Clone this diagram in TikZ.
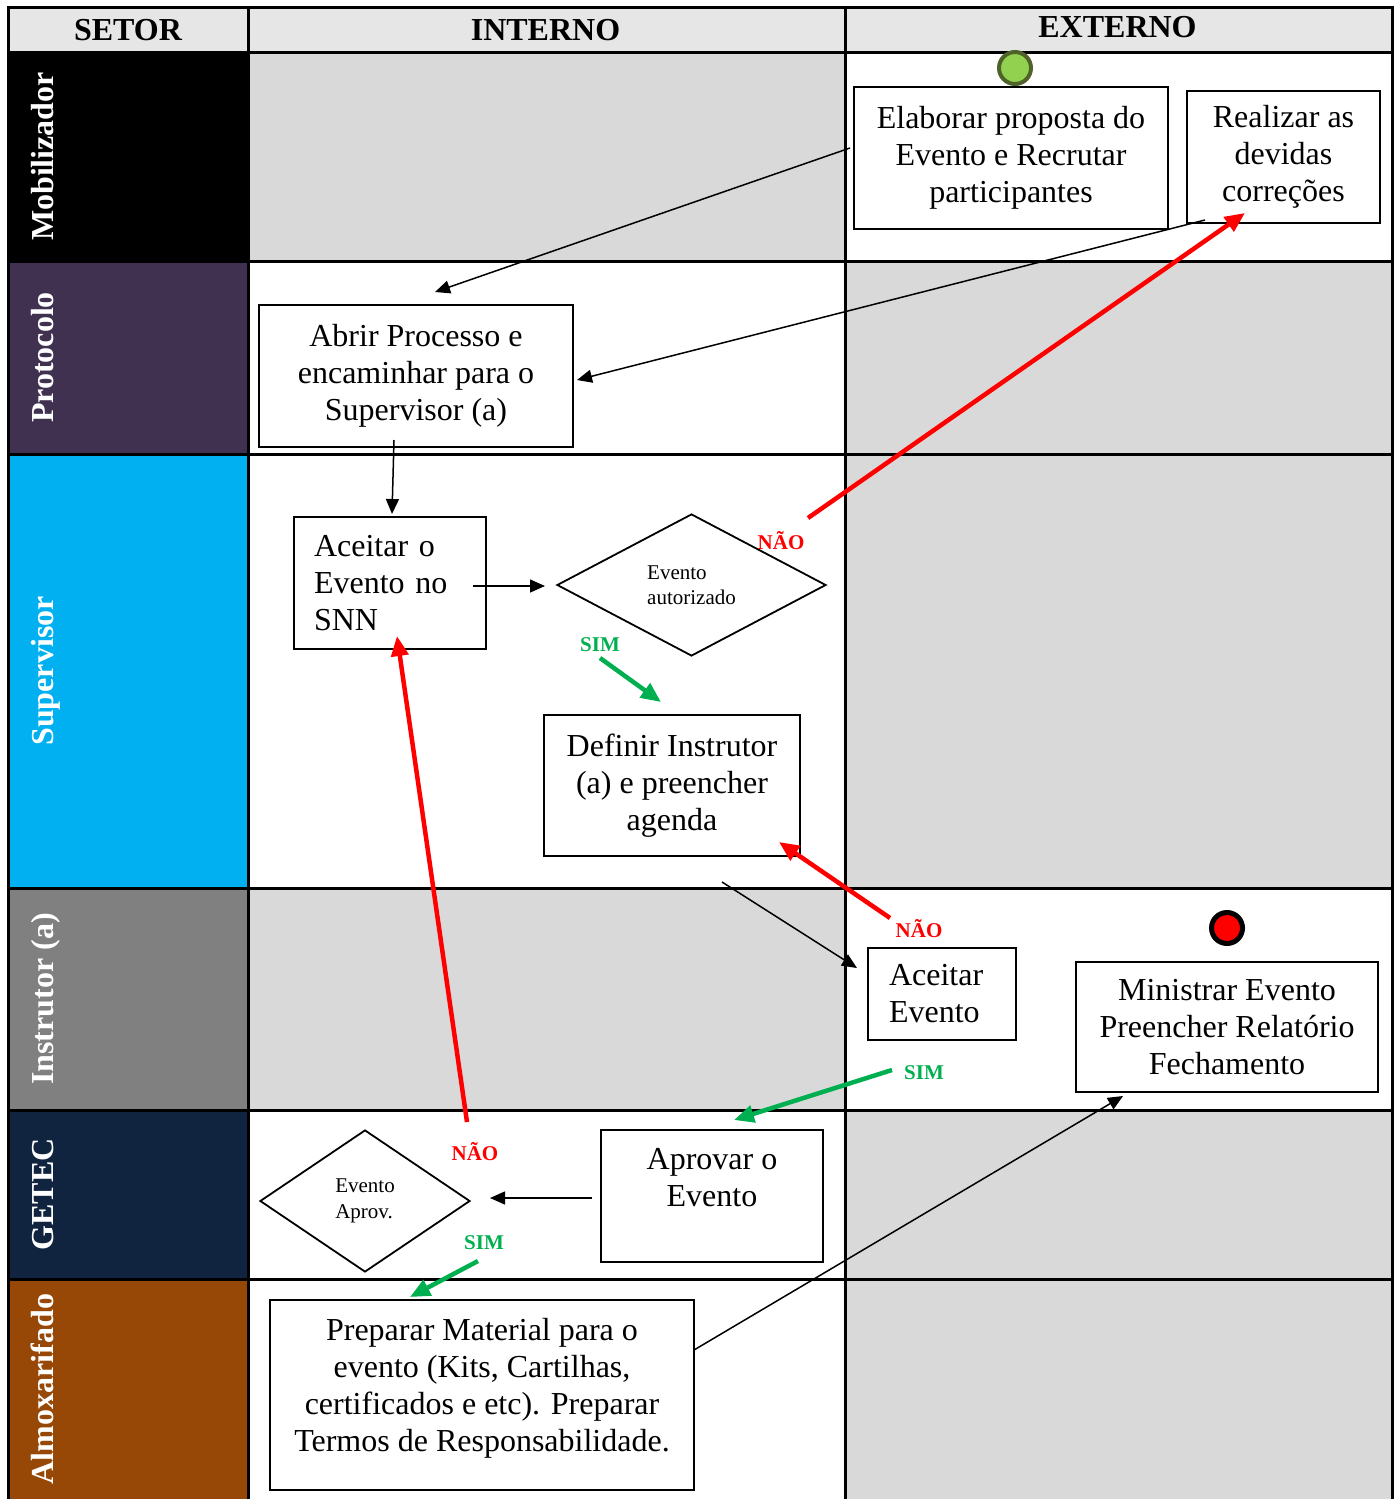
\documentclass[tikz,border=0pt]{standalone}
\usepackage{fontspec}
\setmainfont{Liberation Serif}
\usetikzlibrary{arrows.meta,shapes.geometric}

\definecolor{cellgray}{RGB}{217,217,217}
\definecolor{headgray}{RGB}{230,230,230}
\definecolor{lanemob}{RGB}{0,0,0}
\definecolor{laneprot}{RGB}{64,49,81}
\definecolor{lanesup}{RGB}{0,176,240}
\definecolor{laneinst}{RGB}{128,128,128}
\definecolor{lanegetec}{RGB}{16,36,63}
\definecolor{lanealmox}{RGB}{151,72,6}
\definecolor{startgreen}{RGB}{146,208,80}
\definecolor{startedge}{RGB}{79,98,40}
\definecolor{okgreen}{RGB}{0,176,80}
\definecolor{nored}{RGB}{255,0,0}

\newcommand{\flowtext}{\fontsize{32}{37}\selectfont}
\newcommand{\decisiontext}{\fontsize{21}{25.5}\selectfont}
\newcommand{\headtext}{\fontsize{32}{37}\selectfont\bfseries}
\newcommand{\answertext}{\fontsize{21}{25}\selectfont\bfseries}

\begin{document}
\begin{tikzpicture}[x=1pt,y=-1pt,
  grid/.style={line width=3pt, line cap=rect},
  box/.style={draw, line width=1.8pt, fill=white, inner sep=0pt, align=center, font=\flowtext},
  decision/.style={draw, diamond, line width=1.8pt, fill=white, inner sep=0pt, align=left, font=\decisiontext},
  headlabel/.style={anchor=base, font=\headtext},
  lanelabel/.style={anchor=base, rotate=90, text=white, font=\headtext},
  flow/.style={line width=1.5pt, -{Triangle[length=15pt,width=13pt]}},
  noflow/.style={line width=4.5pt, draw=nored, -{Triangle[length=20pt,width=17pt]}},
  yesflow/.style={line width=4.5pt, draw=okgreen, -{Triangle[length=20pt,width=17pt]}},
  noanswer/.style={text=nored, font=\answertext, inner sep=0pt},
  yesanswer/.style={text=okgreen, font=\answertext, inner sep=0pt}
]
\useasboundingbox (0,0) rectangle (1396,1499);
\fill[white] (0,0) rectangle (1396,1499);

% header row
\fill[headgray] (8,7) rectangle (1392,52);

% lane colours
\fill[lanemob]   (8,52)   rectangle (248,261);
\fill[laneprot]  (8,261)  rectangle (248,454);
\fill[lanesup]   (8,454)  rectangle (248,888);
\fill[laneinst]  (8,888)  rectangle (248,1110);
\fill[lanegetec] (8,1110) rectangle (248,1279);
\fill[lanealmox] (8,1279) rectangle (248,1499);

% shaded cells
\fill[cellgray] (248,52)   rectangle (845,261);
\fill[cellgray] (845,261)  rectangle (1392,454);
\fill[cellgray] (845,454)  rectangle (1392,888);
\fill[cellgray] (248,888)  rectangle (845,1110);
\fill[cellgray] (845,1110) rectangle (1392,1279);
\fill[cellgray] (845,1279) rectangle (1392,1499);

% table lines
\draw[grid] (8,1499) -- (8,7) -- (1392,7) -- (1392,1499);
\foreach \yy in {52,261,454,888,1110,1279}
  \draw[grid] (8,\yy) -- (1392,\yy);
\draw[grid] (248,7) -- (248,1499);
\draw[grid] (845,7) -- (845,1499);

% column headings
\node[headlabel] (hsetor) at (128,40) {SETOR};
\node[headlabel] (hint)   at (545.5,40) {INTERNO};
\node[headlabel] (hext)   at (1117.5,37) {EXTERNO};

% lane names
\node[lanelabel] (lmob)   at (53,156.5) {Mobilizador};
\node[lanelabel] (lprot)  at (53,357.5) {Protocolo};
\node[lanelabel] (lsup)   at (53,671)   {Supervisor};
\node[lanelabel] (linst)  at (53,999)   {Instrutor (a)};
\node[lanelabel] (lgetec) at (53,1194.5){GETEC};
\node[lanelabel] (lalmox) at (53,1389)  {Almoxarifado};

% start and end events
\node[circle, draw=startedge, fill=startgreen, line width=4pt, minimum size=32pt, inner sep=0pt] (start) at (1015,68) {};
\node[circle, draw=black, fill=nored, line width=5pt, minimum size=31pt, inner sep=0pt] (finish) at (1227,928) {};

% activities
\node[box, minimum width=314pt, minimum height=142pt] (elab) at (1011,158)
  {Elaborar proposta do\\Evento e Recrutar\\participantes};
\node[box, minimum width=193pt, minimum height=132pt] (realizar) at (1283.5,157)
  {Realizar as\\devidas\\correções};
\node[box, minimum width=314pt, minimum height=142pt] (abrir) at (416,376)
  {Abrir Processo e\\encaminhar para o\\Supervisor (a)};
\node[box, align=left, text width=152pt, inner xsep=20pt, minimum height=132pt] (aceitar) at (390,583)
  {Aceitar o\\Evento no\\SNN};
\node[decision, minimum width=269pt, minimum height=142pt] (autoriz) at (691.5,585)
  {Evento\\autorizado};
\node[box, minimum width=256pt, minimum height=141pt] (definir) at (672,785.5)
  {Definir Instrutor\\(a) e preencher\\agenda};
\node[box, align=left, text width=106pt, inner xsep=21pt, minimum height=92pt] (aceitarev) at (942,994)
  {Aceitar\\Evento};
\node[box, minimum width=302pt, minimum height=130pt] (ministrar) at (1227,1027)
  {Ministrar Evento\\Preencher Relatório\\Fechamento};
\node[box, minimum width=222pt, minimum height=132pt] (aprovar) at (712,1196)
  {Aprovar o\\Evento\\\mbox{}};
\node[decision, minimum width=210pt, minimum height=142pt] (aprovdec) at (365,1201)
  {Evento\\Aprov.};
\node[box, minimum width=424pt, minimum height=190pt] (preparar) at (482,1395)
  {Preparar Material para o\\evento (Kits, Cartilhas,\\certificados e etc). Preparar\\Termos de Responsabilidade.\\[-16pt]\mbox{}};

% connector end points
\coordinate (elabout)    at (850,148);
\coordinate (abririn)    at (435,292);
\coordinate (realout)    at (1205,220);
\coordinate (abrirside)  at (577,380);
\coordinate (abrirout)   at (394,440);
\coordinate (aceitin)    at (392,514);
\coordinate (aceitout)   at (473,586);
\coordinate (autorin)    at (545,586);
\coordinate (defout)     at (722,882);
\coordinate (aceitevin)  at (857,968);
\coordinate (prepout)    at (694,1350);
\coordinate (ministin)   at (1123,1096);
\coordinate (aprovout)   at (592,1198);
\coordinate (aprovdecin) at (490,1198);
\coordinate (autorno)    at (808,518);
\coordinate (realin)     at (1245,213);
\coordinate (aceitevno)  at (890,918);
\coordinate (defin)      at (779,842);
\coordinate (aprovno)    at (467,1122);
\coordinate (aceitback)  at (397,636);
\coordinate (autoryes)   at (600,658);
\coordinate (defyes)     at (661,702);
\coordinate (aceitevyes) at (892,1070);
\coordinate (aprovin)    at (734,1120);
\coordinate (aprovyes)   at (478,1261);
\coordinate (prepin)     at (410,1297);

% sequence flows
\draw[flow] (elabout) -- (abririn);
\draw[flow] (realout) -- (abrirside);
\draw[flow] (abrirout) -- (aceitin);
\draw[flow] (aceitout) -- (autorin);
\draw[flow] (defout) -- (aceitevin);
\draw[flow] (prepout) -- (ministin);
\draw[flow] (aprovout) -- (aprovdecin);

% rejections
\draw[noflow] (autorno) -- (realin);
\draw[noflow] (aceitevno) -- (defin);
\draw[noflow] (aprovno) -- (aceitback);

% approvals
\draw[yesflow] (autoryes) -- (defyes);
\draw[yesflow] (aceitevyes) -- (aprovin);
\draw[yesflow] (aprovyes) -- (prepin);

% decision answers
\node[noanswer]  (nao1) at (781,541)  {NÃO};
\node[yesanswer] (sim1) at (600,645)  {SIM};
\node[noanswer]  (nao2) at (919,929)  {NÃO};
\node[yesanswer] (sim2) at (924,1073) {SIM};
\node[noanswer]  (nao3) at (475,1152) {NÃO};
\node[yesanswer] (sim3) at (484,1243) {SIM};
\end{tikzpicture}
\end{document}
